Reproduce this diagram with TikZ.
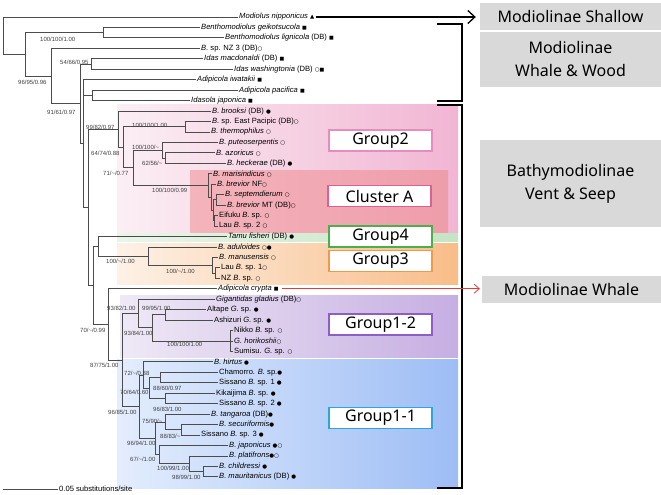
\documentclass[tikz,border=0pt]{standalone}
\usepackage{fontspec}
\setmainfont{Liberation Sans}
\newfontfamily\boxfont{Noto Sans}
\newfontfamily\symfont{DejaVu Sans}
\usetikzlibrary{positioning, arrows.meta}

\definecolor{cladegray}{HTML}{D9D9D9}
\definecolor{g2left}{HTML}{FBEFF4}
\definecolor{g2right}{HTML}{F1B5D3}
\definecolor{caleft}{HTML}{F4B4BC}
\definecolor{caright}{HTML}{EE9DAA}
\definecolor{g4left}{HTML}{EAF5EA}
\definecolor{g4right}{HTML}{C4E4C4}
\definecolor{g3left}{HTML}{FDF1E6}
\definecolor{g3right}{HTML}{F8BD88}
\definecolor{g12left}{HTML}{EFE9F6}
\definecolor{g12right}{HTML}{C6AEE2}
\definecolor{g11left}{HTML}{E3EDFD}
\definecolor{g11right}{HTML}{9DBDF5}
\definecolor{g2line}{HTML}{E88BBE}
\definecolor{caline}{HTML}{DD5F93}
\definecolor{g4line}{HTML}{4DAF4A}
\definecolor{g3line}{HTML}{EE9A4A}
\definecolor{g12line}{HTML}{8E5EC4}
\definecolor{g11line}{HTML}{2DA6DE}
\definecolor{whalered}{HTML}{E23B3B}

\newcommand{\msq}{{\symfont\fontsize{5}{5}\selectfont ■}}
\newcommand{\mdot}{{\symfont\fontsize{5.5}{5}\selectfont ●}}
\newcommand{\mcirc}{{\symfont\fontsize{5.5}{5}\selectfont ○}}
\newcommand{\mtri}{{\symfont\fontsize{5.5}{5}\selectfont ▲}}

\begin{document}
\begin{tikzpicture}
    [
        x=1pt, y=-1pt,
        branch/.style={draw=black!70, line width=0.8pt},
        tip/.style={anchor=west, inner sep=1pt, font=\fontsize{7.6}{8}\selectfont},
        boot/.style={anchor=west, inner sep=0pt, text=black!75, font=\fontsize{6}{6}\selectfont},
        grpbox/.style={draw, fill=white, line width=1.2pt, minimum width=103pt, minimum height=21pt, inner sep=0pt, font=\boxfont\fontsize{16}{18}\selectfont},
        cladebox/.style={fill=cladegray, minimum width=181pt, inner sep=0pt, align=center, font=\boxfont\fontsize{16}{23}\selectfont},
        bracket/.style={line width=2.4pt},
    ]
        \useasboundingbox (0,0) rectangle (661,495);

        \shade[left color=g2left, right color=g2right] (117,104) rectangle (458,232);
        \shade[left color=caleft, right color=caright] (190,170) rectangle (448,232);
        \shade[left color=g4left, right color=g4right] (117,233.5) rectangle (458,241.5);
        \shade[left color=g3left, right color=g3right] (117,243) rectangle (458,284);
        \shade[left color=g12left, right color=g12right] (120,295) rectangle (458,357);
        \shade[left color=g11left, right color=g11right] (117,359) rectangle (458,488);

        \foreach \x/\lab [count=\i] in {
            238/{\textit{Modiolus nipponicus} \mtri},
            200/{\textit{Benthomodiolus geikotsucola} \msq},
            224/{\textit{Benthomodiolus lignicola} (DB) \msq},
            200/{\textit{B.} sp. NZ 3 (DB)\mcirc},
            203/{\textit{Idas macdonaldi} (DB) \msq},
            233/{\textit{Idas washingtonia} (DB) \mcirc\msq},
            196/{\textit{Adipicola iwatakii} \msq},
            238/{\textit{Adipicola pacifica} \msq},
            190/{\textit{Idasola japonica} \msq},
            211/{\textit{B. brooksi} (DB) \mdot},
            211/{\textit{B.} sp. East Pacipic (DB)\mcirc},
            210/{\textit{B. thermophilus} \mcirc},
            218/{\textit{B. puteoserpentis} \mcirc},
            215/{\textit{B. azoricus} \mcirc},
            226/{\textit{B. heckerae} (DB) \mdot},
            212/{\textit{B. marisindicus} \mcirc},
            216/{\textit{B. brevior} NF\mcirc},
            224/{\textit{B. septemdierum} \mcirc},
            226/{\textit{B. brevior} MT (DB)\mcirc},
            218/{Eifuku \textit{B.} sp. \mcirc},
            218/{Lau \textit{B.} sp. 2 \mcirc},
            227/{\textit{Tamu fisheri} (DB) \mdot},
            217/{\textit{B. aduloides} \mcirc\mdot},
            218/{\textit{B. manusensis} \mcirc},
            220/{Lau \textit{B.} sp. 1\mcirc},
            220/{NZ \textit{B.} sp. \mcirc},
            217/{\textit{Adipicola crypta} \msq},
            215/{\textit{Gigantidas gladius} (DB)\mcirc},
            206/{Altape \textit{G.} sp. \mdot},
            213/{Ashizuri \textit{G.} sp. \mdot},
            233/{Nikko \textit{B.} sp. \mcirc},
            233/{\textit{G. horikoshii}\mcirc},
            233/{Sumisu. \textit{G.} sp. \mcirc},
            213/{\textit{B. hirtus} \mdot},
            218/{Chamorro. \textit{B.} sp.\mdot},
            218/{Sissano \textit{B.} sp. 1 \mdot},
            215/{Kikaijima \textit{B.} sp. \mdot},
            218/{Sissano \textit{B.} sp. 2 \mdot},
            210/{\textit{B. tangaroa} (DB)\mdot},
            218/{\textit{B. securiformis}\mdot},
            200/{Sissano \textit{B.} sp. 3 \mdot},
            228/{\textit{B. japonicus} \mdot\mcirc},
            228/{\textit{B. platifrons}\mdot\mcirc},
            218/{\textit{B. childressi} \mdot},
            218/{\textit{B. mauritanicus} (DB) \mdot}}
            \node[tip] (t\i) at (\x, {17+(\i-1)*10.45}) {\lab};

        \coordinate (root) at (3,35.68);
        \coordinate (n25) at (25,54.37);
        \coordinate (bentho) at (103,32.68);
        \coordinate (n51) at (51,76.06);
        \coordinate (n80) at (80,103.76);
        \coordinate (idas) at (91,64.03);
        \coordinate (amid) at (83,143.5);
        \coordinate (adip) at (92,95.38);
        \coordinate (bathy) at (88,207.25);
        \coordinate (grp2) at (118,129.2);
        \coordinate (grX) at (123,147.3);
        \coordinate (ept) at (185,126.73);
        \coordinate (grY) at (133,167.87);
        \coordinate (puteo) at (162,150.24);
        \coordinate (azh) at (165,158.08);
        \coordinate (clA) at (208,185.5);
        \coordinate (ca1) at (211,197.26);
        \coordinate (ca2) at (213,210.33);
        \coordinate (ca3) at (216,199.88);
        \coordinate (ca4) at (214,220.78);
        \coordinate (cnode) at (93,285.3);
        \coordinate (tamu) at (98,246.25);
        \coordinate (grp3) at (148,256.04);
        \coordinate (g3a) at (212,265.19);
        \coordinate (g3b) at (215,273.03);
        \coordinate (crypt) at (108,324.38);
        \coordinate (grp1) at (122,360.05);
        \coordinate (grp12) at (138,313.52);
        \coordinate (g12b) at (152,327.89);
        \coordinate (alta) at (165,314.83);
        \coordinate (nik) at (230,340.95);
        \coordinate (grp11) at (139,406.58);
        \coordinate (hir) at (143,374.9);
        \coordinate (pp) at (149,387.98);
        \coordinate (cs) at (160,377.53);
        \coordinate (ks) at (165,398.43);
        \coordinate (mm) at (155,438.27);
        \coordinate (tan) at (165,421.94);
        \coordinate (ss3) at (181,429.78);
        \coordinate (jap) at (159,454.6);
        \coordinate (pl) at (189,463.74);
        \coordinate (cm) at (203,471.58);

        \foreach \p/\c in {root/t1, root/n25, n25/bentho, n25/n51, bentho/t2, bentho/t3,
            n51/t4, n51/n80, n80/idas, n80/amid, idas/t5, idas/t6,
            amid/t7, amid/adip, amid/bathy, adip/t8, adip/t9,
            bathy/grp2, bathy/cnode, grp2/t10, grp2/grX, grX/ept, grX/grY,
            ept/t11, ept/t12, grY/puteo, grY/clA, puteo/t13, puteo/azh, azh/t14, azh/t15,
            clA/t16, clA/ca1, ca1/t17, ca1/ca2, ca2/ca3, ca2/ca4,
            ca3/t18, ca3/t19, ca4/t20, ca4/t21,
            cnode/tamu, cnode/crypt, tamu/t22, tamu/grp3, grp3/t23, grp3/g3a,
            g3a/t24, g3a/g3b, g3b/t25, g3b/t26,
            crypt/t27, crypt/grp1, grp1/grp12, grp1/grp11,
            grp12/t28, grp12/g12b, g12b/alta, g12b/nik, alta/t29, alta/t30,
            nik/t31, nik/t32, nik/t33,
            grp11/hir, grp11/mm, hir/t34, hir/pp, pp/cs, pp/ks,
            cs/t35, cs/t36, ks/t37, ks/t38,
            mm/tan, mm/jap, tan/t39, tan/ss3, ss3/t40, ss3/t41,
            jap/t42, jap/pl, pl/t43, pl/cm, cm/t44, cm/t45}
            \draw[branch] (\p) |- (\c);

        \node[boot] (bs1) at (40,39) {100/100/1.00};
        \node[boot] (bs2) at (18,82) {96/95/0.96};
        \node[boot] (bs3) at (60,62) {54/66/0.95};
        \node[boot] (bs4) at (47,112) {91/61/0.97};
        \node[boot] (bs5) at (86,127) {99/82/0.97};
        \node[boot] (bs6) at (132,125) {100/100/1.00};
        \node[boot] (bs7) at (91,153) {64/74/0.88};
        \node[boot] (bs8) at (132,147) {100/100/\textasciitilde};
        \node[boot] (bs9) at (142,163) {62/56/\textasciitilde};
        \node[boot] (bs10) at (103,173) {71/\textasciitilde/0.77};
        \node[boot] (bs11) at (152,190) {100/100/0.99};
        \node[boot] (bs12) at (106,261) {100/\textasciitilde/1.00};
        \node[boot] (bs13) at (166,271) {100/\textasciitilde/1.00};
        \node[boot] (bs14) at (107,308) {93/82/1.00};
        \node[boot] (bs15) at (142,308) {99/95/1.00};
        \node[boot] (bs16) at (80,330) {70/\textasciitilde/0.99};
        \node[boot] (bs17) at (124,333) {93/84/1.00};
        \node[boot] (bs18) at (167,344) {100/100/1.00};
        \node[boot] (bs19) at (90,365) {87/75/1.00};
        \node[boot] (bs20) at (124,373) {72/\textasciitilde/0.88};
        \node[boot] (bs21) at (153,388) {88/60/0.97};
        \node[boot] (bs22) at (120,392) {70/64/0.60};
        \node[boot] (bs23) at (153,409) {96/83/1.00};
        \node[boot] (bs24) at (108,412) {96/85/1.00};
        \node[boot] (bs25) at (142,421) {75/90/\textasciitilde};
        \node[boot] (bs26) at (160,436) {88/83/\textasciitilde};
        \node[boot] (bs27) at (127,443) {96/94/1.00};
        \node[boot] (bs28) at (130,459) {67/\textasciitilde/1.00};
        \node[boot] (bs29) at (157,468) {100/99/1.00};
        \node[boot] (bs30) at (172,477) {98/99/1.00};

        \node[grpbox, draw=g2line] (g2) at (380.5,140.5) {Group2};
        \node[grpbox, draw=caline] (clusterA) at (379.5,196) {Cluster A};
        \node[grpbox, draw=g4line] (g4) at (380.5,236.5) {Group4};
        \node[grpbox, draw=g3line] (g3) at (380.5,261) {Group3};
        \node[grpbox, draw=g12line] (g12) at (380.5,324.5) {Group1-2};
        \node[grpbox, draw=g11line] (g11) at (380.5,418) {Group1-1};

        \node[cladebox, minimum height=27pt] (shallow) at (570.5,16.5) {Modiolinae Shallow};
        \node[cladebox, minimum height=55pt] (wood) at (570.5,59.5) {Modiolinae\\Whale \& Wood};
        \node[cladebox, minimum height=87pt] (vent) at (570.5,183.5) {Bathymodiolinae\\Vent \& Seep};
        \node[cladebox, minimum height=27pt, minimum width=179pt] (whale) at (571.5,289.5) {Modiolinae Whale};

        \draw[bracket] (437,24) -- (462,24) -- (462,101) -- (437,101);
        \draw[bracket] (437,105) -- (462,105) -- (462,488) -- (437,488);

        \draw[-{Straight Barb[length=7pt, width=13pt, line width=1.3pt]}, line width=2.8pt, shorten >=4pt] (t1.east) -- (t1.east -| shallow.west);
        \draw[-{Straight Barb[length=5pt, width=9pt]}, line width=0.8pt, color=whalered, shorten >=4pt] ([xshift=2pt]t27.east) -- ([xshift=2pt]t27.east -| whale.west);

        \coordinate (scaleL) at (3,489);
        \node[tip] (scale) at (58,489) {0.05 substitutions/site};
        \draw[branch] (scaleL) -- (scale.west);
    \end{tikzpicture}
\end{document}
